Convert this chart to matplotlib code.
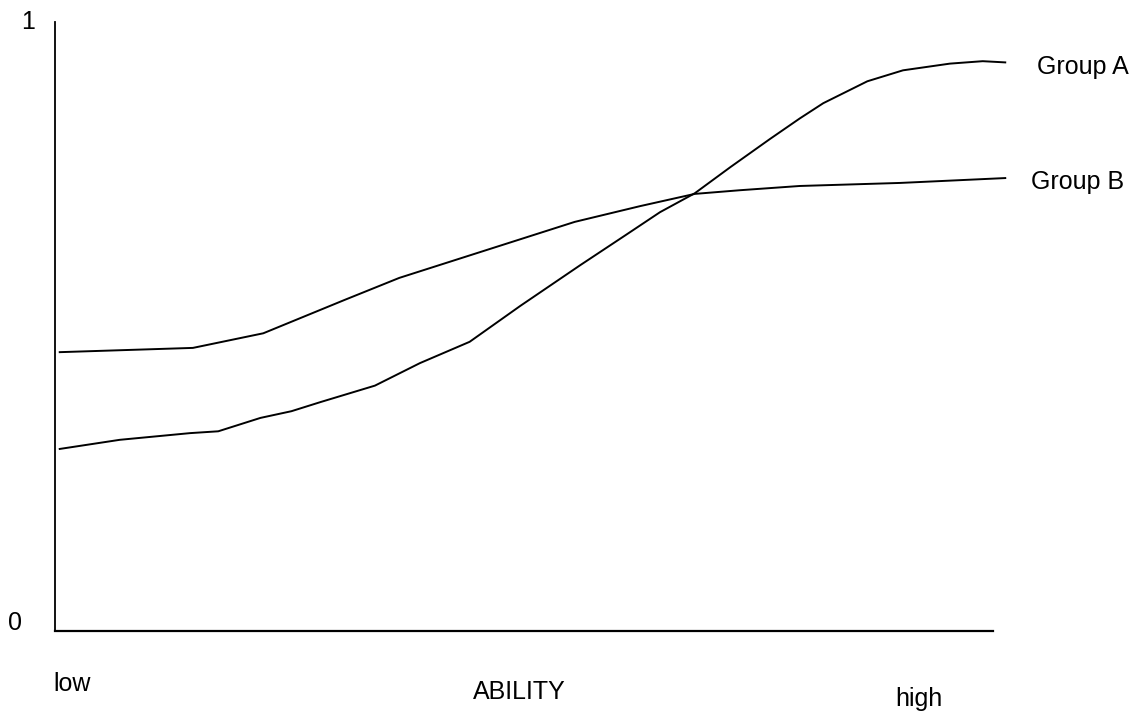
import matplotlib.pyplot as plt

# ability on a 0 (low) .. 1 (high) scale, probability on 0..1
group_a_x = [0.005, 0.069, 0.144, 0.174, 0.219, 0.252, 0.283, 0.341, 0.389, 0.442,
             0.496, 0.560, 0.608, 0.645, 0.682, 0.720, 0.762, 0.794, 0.819, 0.866,
             0.904, 0.954, 0.989, 1.013]
group_a_y = [0.299, 0.314, 0.325, 0.328, 0.350, 0.361, 0.376, 0.403, 0.440, 0.475,
             0.534, 0.601, 0.650, 0.688, 0.719, 0.762, 0.808, 0.842, 0.867, 0.903,
             0.921, 0.932, 0.936, 0.934]

group_b_x = [0.005, 0.147, 0.222, 0.309, 0.367, 0.430, 0.554, 0.624, 0.682, 0.730,
             0.794, 0.901, 1.013]
group_b_y = [0.458, 0.465, 0.489, 0.544, 0.580, 0.611, 0.672, 0.698, 0.718, 0.724,
             0.731, 0.736, 0.744]

plt.rcParams['font.family'] = ['Liberation Sans', 'DejaVu Sans']

fig = plt.figure(figsize=(11.37, 7.17), dpi=100)
ax = fig.add_axes([0.0484, 0.120, 0.825, 0.849])

ax.plot(group_a_x, group_a_y, color='black', linewidth=1.4, clip_on=False)
ax.plot(group_b_x, group_b_y, color='black', linewidth=1.4, clip_on=False)

ax.set_xlim(0, 1)
ax.set_ylim(0, 1)
for side in ['top', 'right']:
    ax.spines[side].set_visible(False)
ax.spines['left'].set_linewidth(1.3)
ax.spines['bottom'].set_linewidth(1.6)
ax.set_xticks([])
ax.set_yticks([])

fs = 18
ax.text(-0.029, 1.0, '1', fontsize=fs, ha='center', va='center')
ax.text(-0.043, 0.013, '0', fontsize=fs, ha='center', va='center')
ax.text(0.018, -0.087, 'low', fontsize=fs, ha='center', va='center')
ax.text(0.495, -0.100, 'ABILITY', fontsize=fs, ha='center', va='center')
ax.text(0.921, -0.112, 'high', fontsize=fs, ha='center', va='center')
ax.text(1.047, 0.926, 'Group A', fontsize=fs, ha='left', va='center', clip_on=False)
ax.text(1.040, 0.737, 'Group B', fontsize=fs, ha='left', va='center', clip_on=False)

fig.savefig('out.png', dpi=100, facecolor='white')
